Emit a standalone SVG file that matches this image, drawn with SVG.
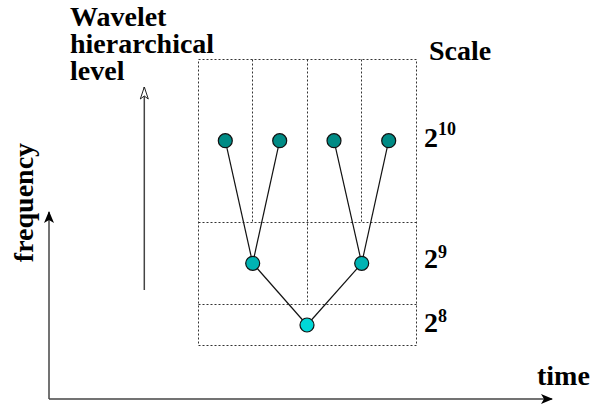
<svg xmlns="http://www.w3.org/2000/svg" width="608" height="405" viewBox="0 0 608 405">
<defs>
<style>
.t{font-family:"Liberation Serif","Times New Roman",serif;font-weight:bold;font-size:28px;fill:#000}
.sup{font-size:18px}
.grid{fill:none;stroke:#333;stroke-width:1;stroke-dasharray:2,2}
.edge{stroke:#111;stroke-width:1.2;fill:none}
.n{stroke:#111;stroke-width:1.2}
.n1{fill:#008b85}
.n2{fill:#00b3b3}
.n3{fill:#00d8d8}
.axis{stroke:#444;stroke-width:1.5;fill:none}
</style>
<marker id="filled" viewBox="0 0 12 10" refX="11" refY="5" markerWidth="12" markerHeight="10" markerUnits="userSpaceOnUse" orient="auto">
<path d="M0,0 L12,5 L0,10 L3,5 Z" fill="#000"/>
</marker>
<marker id="hollow" viewBox="0 0 14 10" refX="13" refY="5" markerWidth="14" markerHeight="10" markerUnits="userSpaceOnUse" orient="auto">
<path d="M1,1 L13,5 L1,9 L4,5 Z" fill="#fff" stroke="#222" stroke-width="1"/>
</marker>
</defs>
<rect width="608" height="405" fill="#fff"/>

<g id="labels">
<text class="t" x="70" y="26">Wavelet</text>
<text class="t" x="70" y="53">hierarchical</text>
<text class="t" x="70" y="80">level</text>
<text class="t" x="429" y="60">Scale</text>
<text class="t" x="424" y="147">2<tspan class="sup" dy="-12">10</tspan></text>
<text class="t" x="424" y="268">2<tspan class="sup" dy="-10">9</tspan></text>
<text class="t" x="424" y="332">2<tspan class="sup" dy="-10">8</tspan></text>
<text class="t" transform="translate(33,202.5) rotate(-90)" text-anchor="middle">frequency</text>
<text class="t" x="537" y="385">time</text>
</g>

<g id="grid">
<rect class="grid" x="198.5" y="59.5" width="218" height="286"/>
<line class="grid" x1="198.5" y1="222.5" x2="416.5" y2="222.5"/>
<line class="grid" x1="198.5" y1="304.5" x2="416.5" y2="304.5"/>
<line class="grid" x1="252.5" y1="59.5" x2="252.5" y2="222.5"/>
<line class="grid" x1="361.5" y1="59.5" x2="361.5" y2="222.5"/>
<line class="grid" x1="307.5" y1="59.5" x2="307.5" y2="304.5"/>
</g>

<g id="connectors">
<line class="edge" x1="225.3" y1="140.7" x2="252.7" y2="263.3"/>
<line class="edge" x1="279.7" y1="140.7" x2="252.7" y2="263.3"/>
<line class="edge" x1="334" y1="140.7" x2="361.7" y2="263.3"/>
<line class="edge" x1="388.7" y1="140.7" x2="361.7" y2="263.3"/>
<line class="edge" x1="252.7" y1="263.3" x2="307" y2="325"/>
<line class="edge" x1="361.7" y1="263.3" x2="307" y2="325"/>
<line class="axis" x1="49" y1="399" x2="49" y2="212" marker-end="url(#filled)"/>
<line class="axis" x1="49" y1="399" x2="552" y2="399" marker-end="url(#filled)"/>
<line class="axis" x1="144.3" y1="290" x2="144.3" y2="87" marker-end="url(#hollow)"/>
</g>

<g id="node-a"><circle class="n n1" cx="225.3" cy="140.7" r="7"/></g>
<g id="node-b"><circle class="n n1" cx="279.7" cy="140.7" r="7"/></g>
<g id="node-c"><circle class="n n1" cx="334" cy="140.7" r="7"/></g>
<g id="node-d"><circle class="n n1" cx="388.7" cy="140.7" r="7"/></g>
<g id="node-e"><circle class="n n2" cx="252.7" cy="263.3" r="7"/></g>
<g id="node-f"><circle class="n n2" cx="361.7" cy="263.3" r="7"/></g>
<g id="node-g"><circle class="n n3" cx="307" cy="325" r="7"/></g>
</svg>
